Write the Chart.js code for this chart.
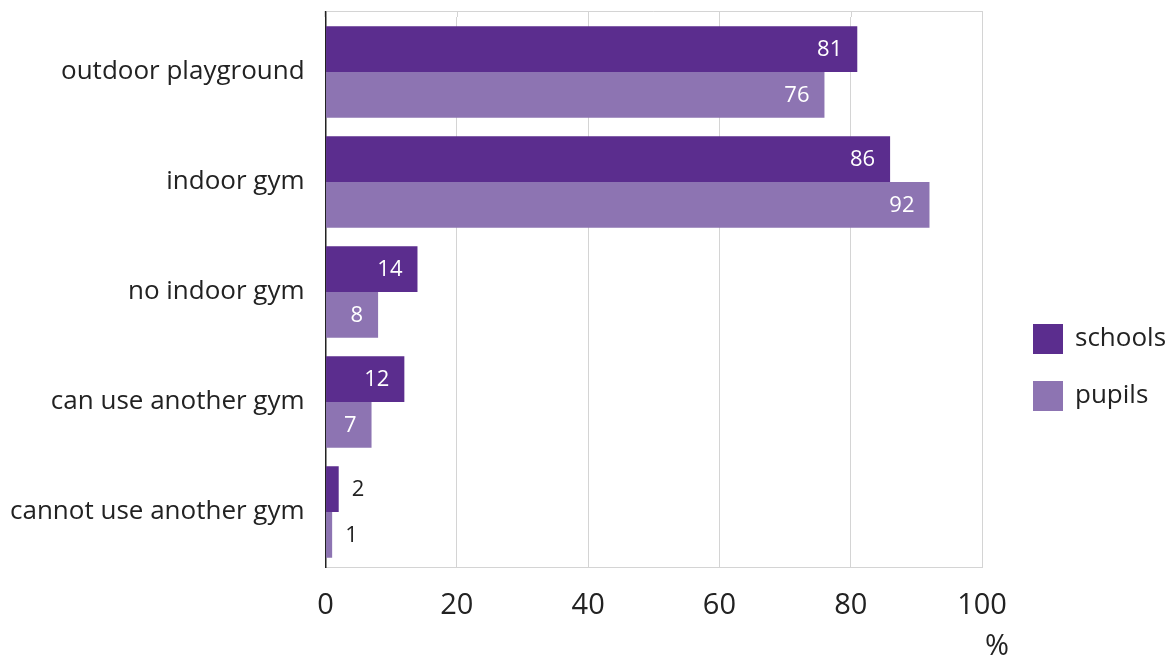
<!DOCTYPE html>
<html lang="en">
<head>
    <meta charset="UTF-8">
    <title>Gym facilities</title>
    <style>
        body { margin: 0; background: #fff; }
        #wrap { width: 1172px; height: 660px; }
    </style>
    <script src="https://cdn.jsdelivr.net/npm/chart.js"></script>
</head>
<body>
    <div id="wrap"><canvas id="chart"></canvas></div>
    <script>
        // data
        const categories = ['outdoor playground', 'indoor gym', 'no indoor gym', 'can use another gym', 'cannot use another gym'];
        const schools = [81, 86, 14, 12, 2];
        const pupils = [76, 92, 8, 7, 1];
        const xTicks = [0, 20, 40, 60, 80, 100];

        const FONT = "'Open Sans', sans-serif";
        const dark = '#5b2d8e';
        const light = '#8d74b2';
        const TOP_GAP = 6;

        // frame above plot + value labels + legend + "%" unit
        const extras = {
            id: 'extras',
            beforeDatasetsDraw(chart) {
                const { ctx, chartArea: a } = chart;
                const xs = chart.scales.x;
                const t = a.top - TOP_GAP;
                ctx.save();
                ctx.strokeStyle = '#d4d4d4';
                ctx.lineWidth = 1;
                ctx.beginPath();
                ctx.moveTo(a.left, t + 0.5);
                ctx.lineTo(a.right, t + 0.5);
                xs.ticks.forEach(tk => {
                    const x = Math.round(xs.getPixelForValue(tk.value)) + 0.5;
                    ctx.moveTo(x, t);
                    ctx.lineTo(x, a.top);
                });
                ctx.stroke();
                ctx.strokeStyle = '#222';
                ctx.lineWidth = 1.5;
                ctx.beginPath();
                ctx.moveTo(a.left, t);
                ctx.lineTo(a.left, a.top);
                ctx.stroke();
                ctx.restore();
            },
            afterDatasetsDraw(chart) {
                const { ctx, chartArea: a } = chart;
                ctx.save();
                ctx.font = '22px ' + FONT;
                ctx.textBaseline = 'middle';
                chart.data.datasets.forEach((ds, i) => {
                    chart.getDatasetMeta(i).data.forEach((bar, j) => {
                        const v = ds.data[j];
                        if (bar.x - bar.base > 40) {
                            ctx.fillStyle = '#fff';
                            ctx.textAlign = 'right';
                            ctx.fillText(v, bar.x - 15, bar.y + 1);
                        } else {
                            ctx.fillStyle = '#222';
                            ctx.textAlign = 'left';
                            ctx.fillText(v, bar.x + 13, bar.y + 1);
                        }
                    });
                });

                // legend
                ctx.font = '26px ' + FONT;
                ctx.textAlign = 'left';
                chart.data.datasets.forEach((ds, i) => {
                    const y = 324 + i * 57;
                    ctx.fillStyle = ds.backgroundColor;
                    ctx.fillRect(a.right + 51, y, 30, 30);
                    ctx.fillStyle = '#222';
                    ctx.fillText(ds.label, a.right + 93, y + 15);
                });

                // unit
                const xs = chart.scales.x;
                ctx.font = '29px ' + FONT;
                ctx.textAlign = 'center';
                ctx.fillText('%', xs.right + 15, 647);
                ctx.restore();
            }
        };

        new Chart(document.getElementById('chart'), {
            type: 'bar',
            data: {
                labels: categories,
                datasets: [
                    { label: 'schools', data: schools, backgroundColor: dark },
                    { label: 'pupils', data: pupils, backgroundColor: light }
                ]
            },
            options: {
                indexAxis: 'y',
                responsive: true,
                maintainAspectRatio: false,
                animation: false,
                layout: { padding: { left: 10, top: 17, right: 190, bottom: 39 } },
                datasets: { bar: { categoryPercentage: 0.83, barPercentage: 1 } },
                plugins: {
                    legend: { display: false },
                    tooltip: { enabled: false }
                },
                scales: {
                    x: {
                        min: 0,
                        max: 100,
                        afterBuildTicks(scale) {
                            scale.ticks = xTicks.map(v => ({ value: v }));
                        },
                        afterFit(scale) {
                            scale.height = 54;
                            scale.paddingLeft = 0;
                            scale.paddingRight = 0;
                        },
                        grid: { color: '#d4d4d4', drawTicks: false },
                        border: { color: '#d4d4d4' },
                        ticks: { color: '#222', padding: 21, font: { family: FONT, size: 29 } }
                    },
                    y: {
                        afterFit(scale) {
                            scale.width -= 21;
                            scale.paddingTop = 0;
                            scale.paddingBottom = 0;
                        },
                        grid: { display: false, drawTicks: false },
                        border: { color: '#222', width: 1.5 },
                        ticks: { color: '#222', padding: 21, font: { family: FONT, size: 26 } }
                    }
                }
            },
            plugins: [extras]
        });
    </script>
</body>
</html>
